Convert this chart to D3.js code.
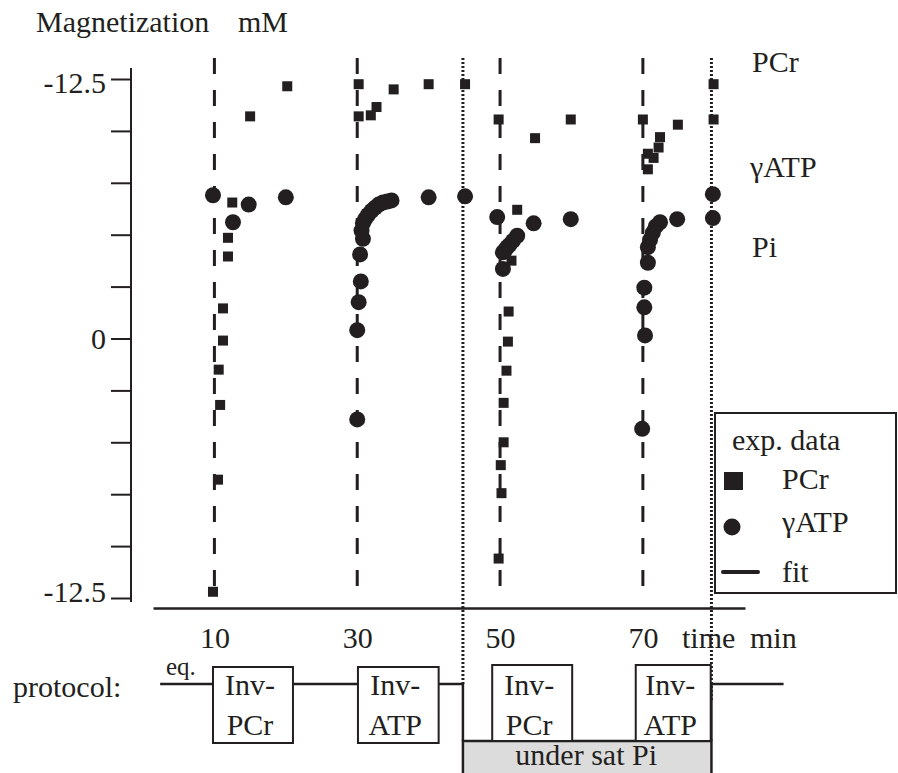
<!DOCTYPE html>
<html>
<head>
<meta charset="utf-8">
<script src="https://cdn.jsdelivr.net/npm/d3@7"></script>
<style>
    body { margin: 0; background: #fff; }
    svg { display: block; }
    text { font-family: "Liberation Serif", "Times New Roman", serif; fill: #231f20; }
</style>
</head>
<body>
<div id="chart"></div>
<script>
// values (time in min, magnetization in mM)
var xTickValues = [10, 30, 50, 70];
var yTickValues = [12.5, 10, 7.5, 5, 2.5, 0, -2.5, -5, -7.5, -10, -12.5];
var yTickLabels = {"12.5": "-12.5", "0": "0", "-12.5": "-12.5"};
var pulseTimes = [10, 30, 50, 70];
var satTimes = [44.8, 79.6];
var seriesNames = ["PCr", "\u03b3ATP", "Pi"];
var legendNames = ["exp. data", "PCr", "\u03b3ATP", "fit"];

var pcrPoints = [
    [9.8, -12.2], [10.5, -6.8], [10.8, -3.2], [10.6, -1.5], [11.2, -0.1], [11.2, 1.45],
    [11.9, 3.95], [11.9, 4.85], [12.5, 6.55], [15.0, 10.7], [20.2, 12.15],
    [30.2, 12.25], [30.2, 10.7], [31.9, 10.75], [32.7, 11.15], [35.1, 12.0], [40.0, 12.25], [45.1, 12.25],
    [49.8, -10.6], [50.2, -7.45], [50.1, -6.1], [50.5, -5.0], [50.5, -3.1], [50.9, -1.55],
    [51.1, -0.15], [51.2, 1.3], [51.6, 3.75], [52.4, 6.2], [54.9, 9.65], [59.9, 10.55], [49.8, 10.55],
    [70.0, 10.55], [70.7, 8.15], [70.7, 8.9], [71.5, 8.7], [72.2, 9.2], [72.4, 9.7], [74.9, 10.3],
    [79.9, 12.25], [79.9, 10.55]
];

var atpPoints = [
    [9.8, 6.9], [12.6, 5.6], [14.8, 6.45], [20.0, 6.8],
    [30.0, -3.9], [30.0, 0.4], [30.2, 1.75], [30.5, 2.75], [30.4, 4.05], [30.8, 4.8], [30.6, 5.2],
    [30.8, 5.55], [31.1, 5.75], [31.5, 5.95], [32.0, 6.15], [32.5, 6.3], [33.0, 6.45], [33.6, 6.55],
    [34.2, 6.6], [34.8, 6.65], [40.0, 6.8], [45.1, 6.85],
    [49.6, 5.85], [50.4, 3.35], [50.4, 4.15], [50.7, 4.25], [51.0, 4.4], [51.3, 4.5], [51.8, 4.7],
    [52.4, 4.95], [54.7, 5.55], [59.9, 5.75],
    [69.9, -4.35], [70.3, 0.15], [70.2, 1.5], [70.2, 2.45], [70.7, 3.65], [70.7, 4.4], [71.0, 4.75],
    [71.4, 5.1], [71.8, 5.4], [72.4, 5.6], [74.8, 5.75], [79.8, 6.95], [79.8, 5.8]
];

var protocolSteps = [
    {label: ["Inv-", "PCr"], t0: 9.8, t1: 21.0, sat: false},
    {label: ["Inv-", "ATP"], t0: 30.1, t1: 41.4, sat: false},
    {label: ["Inv-", "PCr"], t0: 48.9, t1: 60.1, sat: true},
    {label: ["Inv-", "ATP"], t0: 69.0, t1: 79.5, sat: true}
];
var protocolRange = [2.4, 89.7];
var satWindow = [44.8, 79.6];

function draw() {
    var W = 898, H = 773
        , ink = "#231f20"
        , fontSize = 30;

    var svg = d3.select("#chart").append("svg")
        .attr("width", W)
        .attr("height", H);

    var x = d3.scaleLinear().domain([1.4, 84.3]).range([153, 745]);
    var y = d3.scaleLinear().domain([-12.5, 12.5]).range([598, 79]);

    // vertical guide lines
    svg.append("g").selectAll("line")
        .data(pulseTimes)
        .enter().append("line")
        .attr("x1", d => x(d)).attr("x2", d => x(d))
        .attr("y1", 58).attr("y2", 600)
        .attr("stroke", ink)
        .attr("stroke-width", 3)
        .attr("stroke-dasharray", "16,16");

    svg.append("g").selectAll("line")
        .data(satTimes)
        .enter().append("line")
        .attr("x1", d => x(d)).attr("x2", d => x(d))
        .attr("y1", 58).attr("y2", (d, i) => i ? 700 : 686)
        .attr("stroke", ink)
        .attr("stroke-width", 3)
        .attr("stroke-dasharray", "2,2");

    // points
    svg.append("g").selectAll("rect")
        .data(pcrPoints)
        .enter().append("rect")
        .attr("x", d => x(d[0]) - 5)
        .attr("y", d => y(d[1]) - 5)
        .attr("width", 10)
        .attr("height", 10)
        .attr("fill", ink);

    svg.append("g").selectAll("circle")
        .data(atpPoints)
        .enter().append("circle")
        .attr("cx", d => x(d[0]))
        .attr("cy", d => y(d[1]))
        .attr("r", 8)
        .attr("fill", ink);

    // y axis
    var yAxis = d3.axisLeft(y)
        .tickValues(yTickValues)
        .tickSize(20)
        .tickPadding(5)
        .tickFormat(d => yTickLabels[String(d)] || "");

    var yg = svg.append("g")
        .attr("transform", "translate(131,0)")
        .call(yAxis);
    yg.select(".domain").remove();
    yg.selectAll("line").attr("stroke", ink).attr("stroke-width", 2);
    yg.selectAll("text")
        .attr("font-size", fontSize)
        .attr("font-family", null)
        .attr("fill", ink)
        .attr("dy", d => d > 0 ? "13px" : d < 0 ? "3px" : "10px");
    yg.append("line")
        .attr("y1", 68).attr("y2", 602)
        .attr("stroke", ink).attr("stroke-width", 2);

    // x axis
    var xAxis = d3.axisBottom(x)
        .tickValues(xTickValues)
        .tickSize(0)
        .tickSizeOuter(0)
        .tickPadding(19);

    var xg = svg.append("g")
        .attr("transform", "translate(0,608)")
        .call(xAxis);
    xg.select(".domain").attr("stroke", ink).attr("stroke-width", 2.5);
    xg.selectAll("text")
        .attr("font-size", fontSize)
        .attr("font-family", null)
        .attr("fill", ink);

    function label(txt, px, py, size, anchor) {
        return svg.append("text")
            .attr("x", px).attr("y", py)
            .attr("font-size", size || fontSize)
            .attr("text-anchor", anchor || "start")
            .text(txt);
    }

    label("Magnetization", 36, 32);
    label("mM", 238, 32);
    label("time", 682, 648);
    label("min", 750, 648);

    // series names on the right
    var nameY = [72, 177, 257];
    seriesNames.forEach(function(n, i) {
        label(n, i === 1 ? 750 : 752, nameY[i]);
    });

    // legend
    var lg = svg.append("g");
    lg.append("rect")
        .attr("x", 715).attr("y", 413)
        .attr("width", 181).attr("height", 180)
        .attr("fill", "none")
        .attr("stroke", ink).attr("stroke-width", 2);
    label(legendNames[0], 732, 450);
    lg.append("rect")
        .attr("x", 724).attr("y", 472)
        .attr("width", 19).attr("height", 18)
        .attr("fill", ink);
    label(legendNames[1], 782, 489);
    lg.append("circle")
        .attr("cx", 732).attr("cy", 527)
        .attr("r", 8.5)
        .attr("fill", ink);
    label(legendNames[2], 782, 532);
    lg.append("line")
        .attr("x1", 723).attr("x2", 758)
        .attr("y1", 572).attr("y2", 572)
        .attr("stroke", ink).attr("stroke-width", 4)
        .attr("stroke-linecap", "round");
    label(legendNames[3], 782, 582);

    // protocol
    var yEq = 684, ySat = 741;
    var pg = svg.append("g");
    label("protocol:", 13, 697);
    label("eq.", 166, 675, 25);

    pg.append("rect")
        .attr("x", x(satWindow[0]))
        .attr("y", ySat)
        .attr("width", x(satWindow[1]) - x(satWindow[0]))
        .attr("height", 60)
        .attr("fill", "#dcdcdc")
        .attr("stroke", ink)
        .attr("stroke-width", 2.5);

    pg.append("path")
        .attr("d", d3.line()([
            [x(protocolRange[0]), yEq], [x(satWindow[0]), yEq], [x(satWindow[0]), ySat]
        ]))
        .attr("fill", "none").attr("stroke", ink).attr("stroke-width", 2.5);
    pg.append("path")
        .attr("d", d3.line()([
            [x(satWindow[1]), ySat], [x(satWindow[1]), yEq], [x(protocolRange[1]), yEq]
        ]))
        .attr("fill", "none").attr("stroke", ink).attr("stroke-width", 2.5);

    var boxes = pg.selectAll("g.box")
        .data(protocolSteps)
        .enter().append("g")
        .attr("class", "box");
    boxes.append("rect")
        .attr("x", d => x(d.t0))
        .attr("y", d => d.sat ? 665 : 667)
        .attr("width", d => x(d.t1) - x(d.t0))
        .attr("height", 76)
        .attr("fill", "#fff")
        .attr("stroke", ink)
        .attr("stroke-width", 2);
    boxes.append("text")
        .attr("x", d => (x(d.t0) + x(d.t1)) / 2 - 3)
        .attr("y", 695)
        .attr("text-anchor", "middle")
        .attr("font-size", fontSize)
        .text(d => d.label[0]);
    boxes.append("text")
        .attr("x", d => (x(d.t0) + x(d.t1)) / 2 - 3)
        .attr("y", 735)
        .attr("text-anchor", "middle")
        .attr("font-size", fontSize)
        .text(d => d.label[1]);

    label("under sat Pi", (x(satWindow[0]) + x(satWindow[1])) / 2 - 1, 765, fontSize, "middle");
}

draw();
</script>
</body>
</html>
